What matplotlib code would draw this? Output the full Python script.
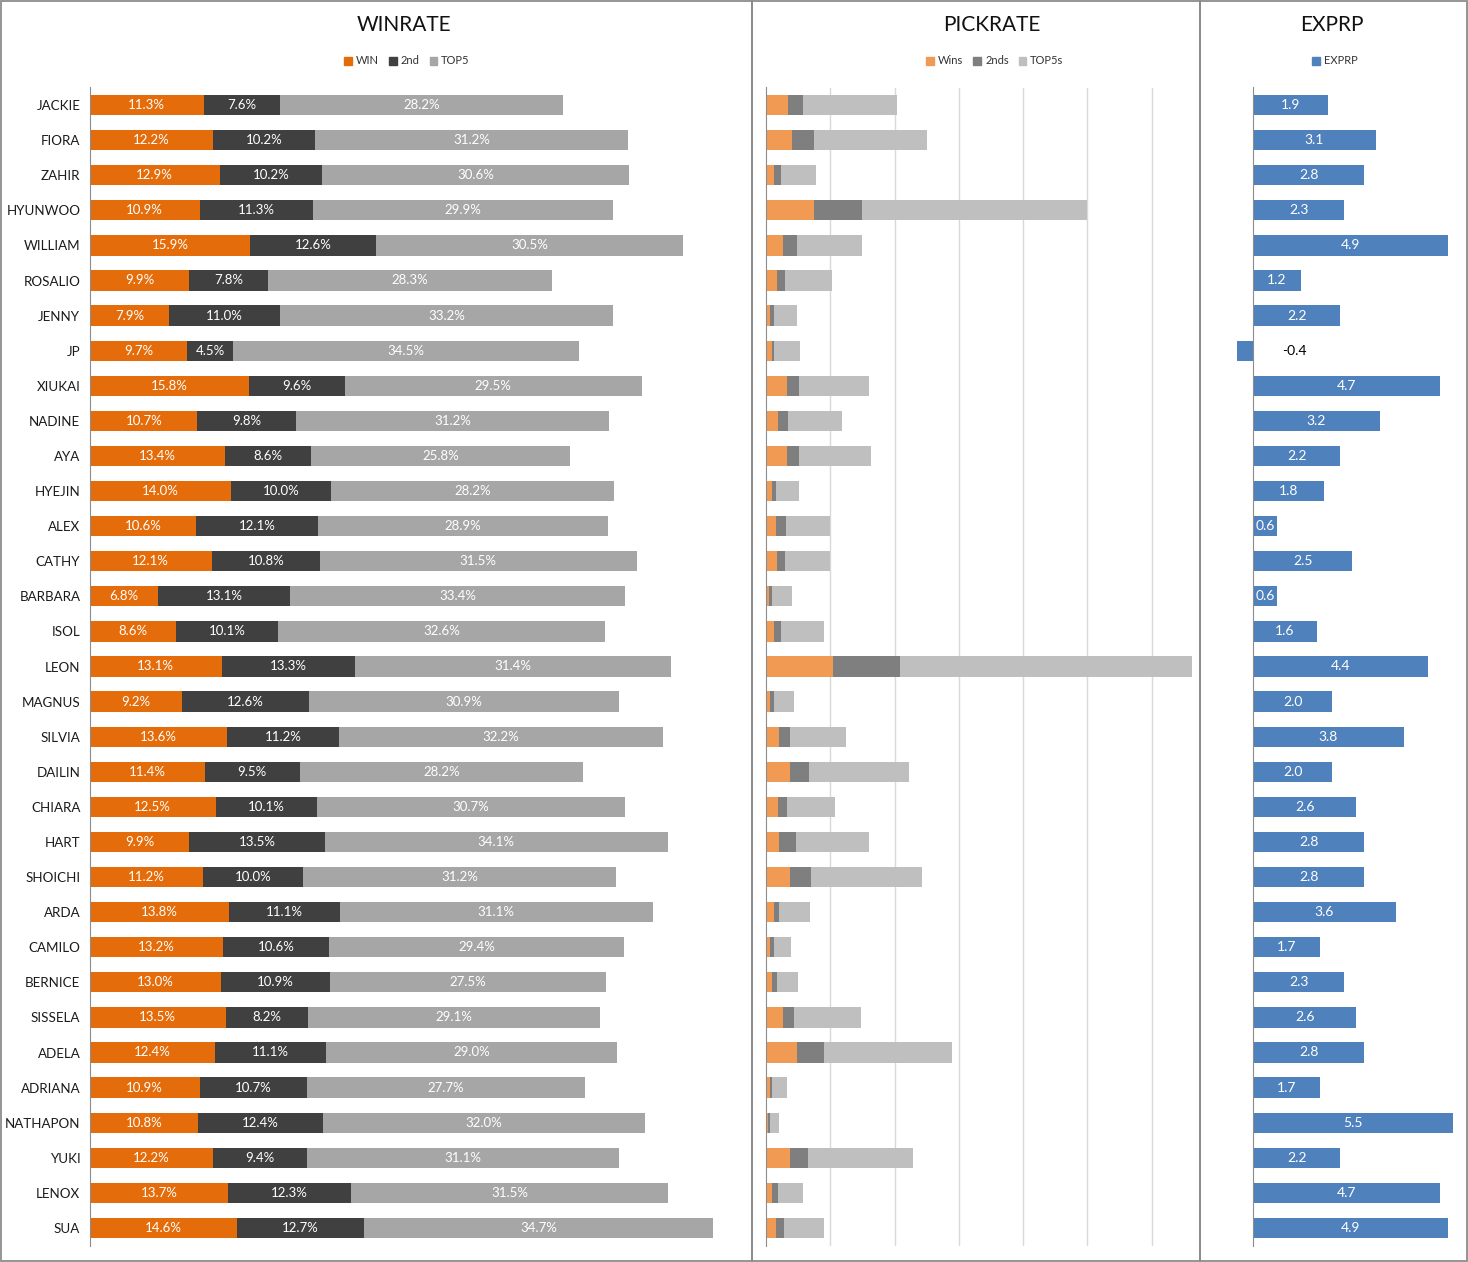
import matplotlib
matplotlib.use('Agg')
import matplotlib.pyplot as plt
from matplotlib.patches import Rectangle, Patch
import numpy as np

plt.rcParams['font.family'] = ['Lato', 'DejaVu Sans']

names = ["JACKIE", "FIORA", "ZAHIR", "HYUNWOO", "WILLIAM", "ROSALIO", "JENNY", "JP",
         "XIUKAI", "NADINE", "AYA", "HYEJIN", "ALEX", "CATHY", "BARBARA", "ISOL",
         "LEON", "MAGNUS", "SILVIA", "DAILIN", "CHIARA", "HART", "SHOICHI", "ARDA",
         "CAMILO", "BERNICE", "SISSELA", "ADELA", "ADRIANA", "NATHAPON", "YUKI",
         "LENOX", "SUA"]

win_rate = [11.3, 12.2, 12.9, 10.9, 15.9, 9.9, 7.9, 9.7, 15.8, 10.7, 13.4, 14.0, 10.6,
            12.1, 6.8, 8.6, 13.1, 9.2, 13.6, 11.4, 12.5, 9.9, 11.2, 13.8, 13.2, 13.0,
            13.5, 12.4, 10.9, 10.8, 12.2, 13.7, 14.6]
second_rate = [7.6, 10.2, 10.2, 11.3, 12.6, 7.8, 11.0, 4.5, 9.6, 9.8, 8.6, 10.0, 12.1,
               10.8, 13.1, 10.1, 13.3, 12.6, 11.2, 9.5, 10.1, 13.5, 10.0, 11.1, 10.6,
               10.9, 8.2, 11.1, 10.7, 12.4, 9.4, 12.3, 12.7]
top5_rate = [28.2, 31.2, 30.6, 29.9, 30.5, 28.3, 33.2, 34.5, 29.5, 31.2, 25.8, 28.2,
             28.9, 31.5, 33.4, 32.6, 31.4, 30.9, 32.2, 28.2, 30.7, 34.1, 31.2, 31.1,
             29.4, 27.5, 29.1, 29.0, 27.7, 32.0, 31.1, 31.5, 34.7]

pick_wins = [0.35, 0.40, 0.13, 0.74, 0.27, 0.17, 0.06, 0.09, 0.32, 0.18, 0.32, 0.10,
             0.15, 0.17, 0.04, 0.12, 1.04, 0.06, 0.21, 0.37, 0.18, 0.20, 0.37, 0.12,
             0.07, 0.09, 0.27, 0.48, 0.06, 0.03, 0.38, 0.10, 0.15]
pick_2nds = [0.23, 0.34, 0.11, 0.75, 0.22, 0.12, 0.07, 0.03, 0.19, 0.16, 0.20, 0.06,
             0.16, 0.12, 0.06, 0.12, 1.04, 0.07, 0.17, 0.30, 0.14, 0.26, 0.33, 0.09,
             0.06, 0.08, 0.17, 0.42, 0.04, 0.03, 0.28, 0.08, 0.13]
pick_top5s = [1.46, 1.76, 0.54, 3.50, 1.01, 0.73, 0.35, 0.41, 1.10, 0.85, 1.12, 0.36,
              0.68, 0.70, 0.30, 0.67, 4.55, 0.31, 0.86, 1.55, 0.75, 1.14, 1.73, 0.47,
              0.26, 0.33, 1.04, 1.99, 0.23, 0.14, 1.62, 0.40, 0.62]

exprp = [1.9, 3.1, 2.8, 2.3, 4.9, 1.2, 2.2, -0.4, 4.7, 3.2, 2.2, 1.8, 0.6, 2.5, 0.6,
         1.6, 4.4, 2.0, 3.8, 2.0, 2.6, 2.8, 2.8, 3.6, 1.7, 2.3, 2.6, 2.8, 1.7, 5.5,
         2.2, 4.7, 4.9]

W, H = 1468, 1262
fig = plt.figure(figsize=(W / 100, H / 100), dpi=100)
fig.patch.set_facecolor('white')

Y0, Y1 = 87.5, 1245.5


def ax_at(x0, x1):
    return fig.add_axes([x0 / W, 1 - Y1 / H, (x1 - x0) / W, (Y1 - Y0) / H])


n = len(names)
y = np.arange(n)
bh = 0.58
axis_col = '#8C8C8C'

# ---------- WINRATE ----------
ax1 = ax_at(90, 745)
left = np.zeros(n)
series1 = [(win_rate, '#E46C0A', 'WIN'), (second_rate, '#404040', '2nd'),
           (top5_rate, '#A6A6A6', 'TOP5')]
handles1 = []
for vals, col, lab in series1:
    vals = np.array(vals)
    b = ax1.barh(y, vals, left=left, height=bh, color=col, label=lab)
    ax1.bar_label(b, labels=[f'{v:.1f}%' for v in vals], label_type='center',
                  color='white', fontsize=9.5)
    left = left + vals
    handles1.append(Patch(color=col, label=lab))
ax1.set_xlim(0, 65.2)
ax1.set_ylim(n - 0.5, -0.5)
ax1.set_yticks(y)
ax1.set_yticklabels(names, fontsize=9.6, color='#1a1a1a')
ax1.tick_params(axis='y', length=0, pad=7)
ax1.set_xticks([])
for s in ['top', 'right', 'bottom']:
    ax1.spines[s].set_visible(False)
ax1.spines['left'].set_color(axis_col)

# ---------- PICKRATE ----------
ax2 = ax_at(766, 1196)
left = np.zeros(n)
series2 = [(pick_wins, '#F09A54', 'Wins'), (pick_2nds, '#7F7F7F', '2nds'),
           (pick_top5s, '#BFBFBF', 'TOP5s')]
handles2 = []
for vals, col, lab in series2:
    vals = np.array(vals)
    ax2.barh(y, vals, left=left, height=bh, color=col, label=lab, zorder=2)
    left = left + vals
    handles2.append(Patch(color=col, label=lab))
ax2.set_xlim(0, 6.69)
ax2.set_ylim(n - 0.5, -0.5)
ax2.set_xticks(range(1, 7))
ax2.set_xticklabels([])
ax2.tick_params(length=0)
ax2.set_yticks([])
ax2.grid(axis='x', color='#D9D9D9', linewidth=1, zorder=0)
ax2.set_axisbelow(True)
for s in ['top', 'right', 'bottom']:
    ax2.spines[s].set_visible(False)
ax2.spines['left'].set_color(axis_col)

# ---------- EXPRP ----------
ax3 = ax_at(1213.3, 1453.1)
ev = np.array(exprp)
b3 = ax3.barh(y, ev, height=bh, color='#4F81BD', label='EXPRP')
pos_labels = [f'{v:.1f}' if v >= 0 else '' for v in ev]
ax3.bar_label(b3, labels=pos_labels, label_type='center', color='white', fontsize=10)
for yi, v in zip(y, ev):
    if v < 0:
        ax3.annotate(f'{v:.1f}', xy=(0, yi), xytext=(41, 0), textcoords='offset pixels',
                     ha='center', va='center', color='black', fontsize=10)
ax3.set_xlim(-1.0, 5.04)
ax3.set_ylim(n - 0.5, -0.5)
ax3.set_xticks([])
ax3.set_yticks([])
for s in ['top', 'right', 'bottom']:
    ax3.spines[s].set_visible(False)
ax3.spines['left'].set_position(('data', 0))
ax3.spines['left'].set_color(axis_col)
handles3 = [Patch(color='#4F81BD', label='EXPRP')]

# ---------- titles & legends ----------
for xc, title in [(404, 'WINRATE'), (992, 'PICKRATE'), (1332, 'EXPRP')]:
    fig.text(xc / W, 1 - 25 / H, title, ha='center', va='center', fontsize=15,
             color='#111111')

for xc, hs in [(407, handles1), (995, handles2), (1335, handles3)]:
    fig.legend(handles=hs, loc='center', bbox_to_anchor=(xc / W, 1 - 61 / H),
               ncol=len(hs), frameon=False, fontsize=8, handlelength=0.7,
               handleheight=0.7, handletextpad=0.35, columnspacing=0.9,
               labelcolor='#333333')

# ---------- panel frames ----------
frame_col = '#8C8C8C'
for x0, x1 in [(1, 752), (752, 1199.5), (1199.5, 1466.5)]:
    fig.add_artist(Rectangle((x0 / W, 1 / H), (x1 - x0) / W, (H - 2) / H,
                             transform=fig.transFigure, fill=False,
                             edgecolor=frame_col, linewidth=1.3))

fig.savefig('out.png', dpi=100, facecolor='white')
